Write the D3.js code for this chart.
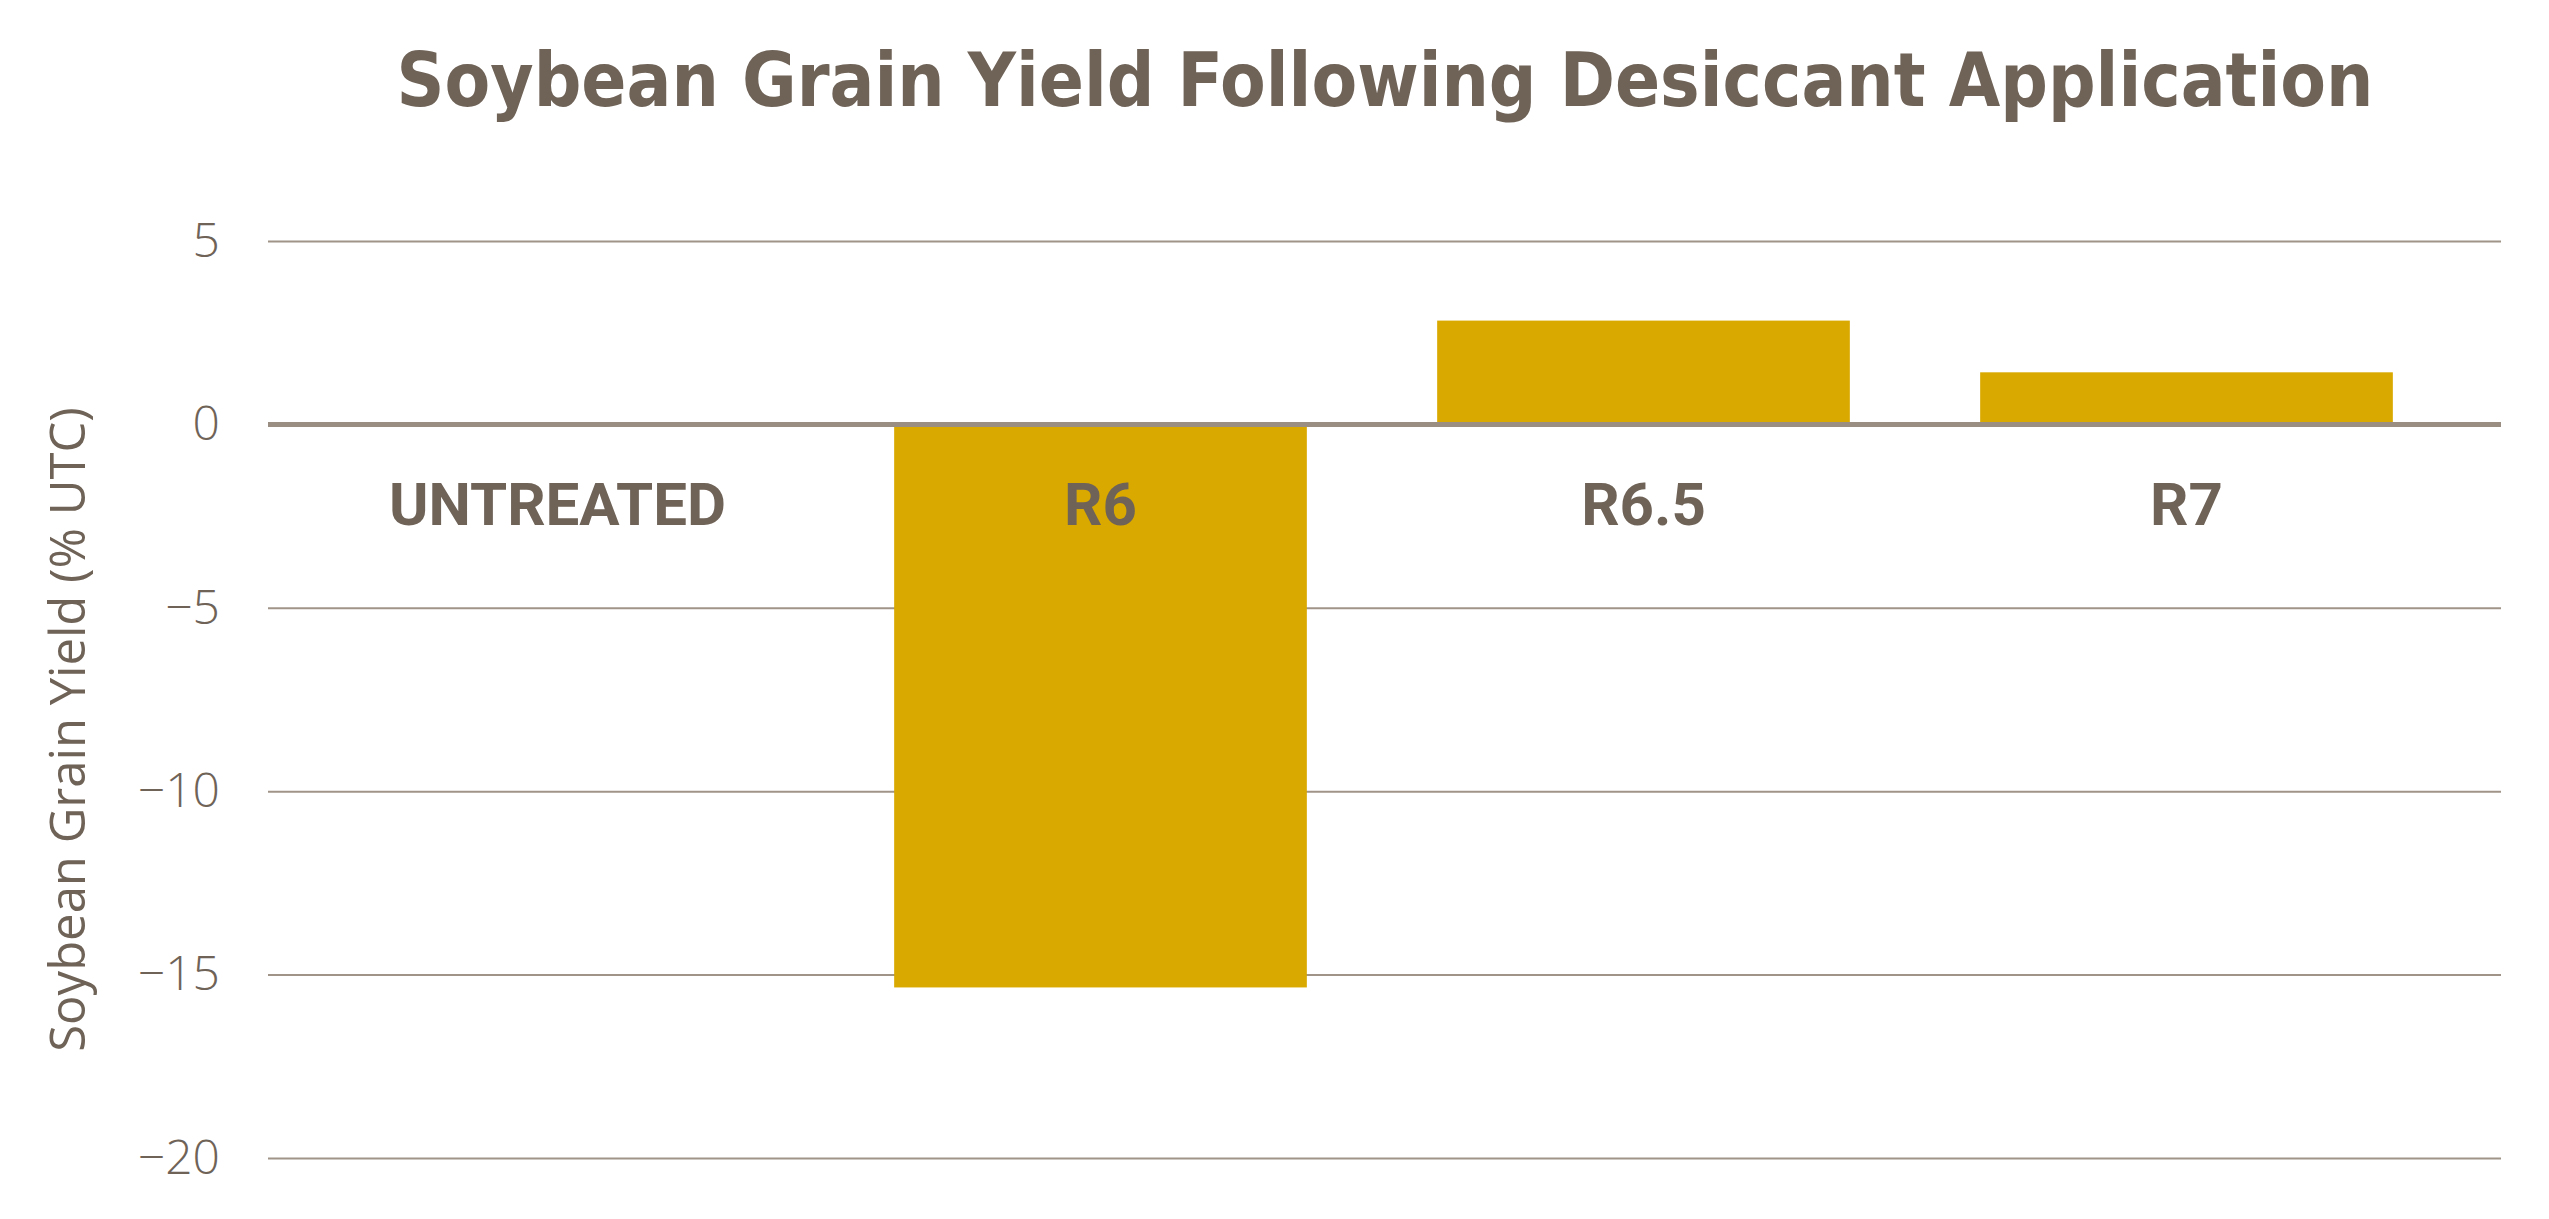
<!DOCTYPE html>
<html>
<head>
<meta charset="utf-8">
<script src="https://cdn.jsdelivr.net/npm/d3@7"></script>
<style>
  body { margin: 0; background: #fff; }
</style>
</head>
<body>
<script>
const categories = ["UNTREATED", "R6", "R6.5", "R7"];
const yields = [0, -15.35, 2.83, 1.42];
const yTicks = [5, 0, -5, -10, -15, -20];

const width = 2549, height = 1219;
const margin = {top: 241, right: 48, bottom: 61, left: 268};
const textColor = "#6f6358";

const svg = d3.select("body").append("svg")
    .attr("width", width)
    .attr("height", height);

const x = d3.scaleBand()
    .domain(categories)
    .range([286, 2458])
    .paddingInner(0.24)
    .paddingOuter(0.12);

const y = d3.scaleLinear()
    .domain([-20, 5])
    .range([height - margin.bottom, margin.top]);

// gridlines + tick labels
const yAxis = svg.append("g")
    .attr("transform", `translate(${margin.left},0)`)
    .call(d3.axisLeft(y).tickValues(yTicks).tickSize(-(width - margin.left - margin.right)).tickFormat(d3.format("d")));
yAxis.select(".domain").remove();
yAxis.selectAll(".tick line").attr("stroke", "#a09488").attr("stroke-width", 2);
yAxis.selectAll(".tick text")
    .attr("x", -48)
    .attr("fill", textColor)
    .attr("font-family", "Open Sans, sans-serif")
    .attr("font-weight", 300)
    .attr("font-size", 48);

svg.append("g").selectAll("rect")
  .data(categories)
  .join("rect")
    .attr("x", d => x(d))
    .attr("width", x.bandwidth())
    .attr("y", (d, i) => y(Math.max(0, yields[i])))
    .attr("height", (d, i) => Math.abs(y(yields[i]) - y(0)))
    .attr("fill", "#d9a900");

// zero line
svg.append("line")
    .attr("x1", margin.left).attr("x2", width - margin.right)
    .attr("y1", y(0)).attr("y2", y(0))
    .attr("stroke", "#9a8e82").attr("stroke-width", 5);

svg.append("g").selectAll("text")
  .data(categories)
  .join("text")
    .attr("x", d => x(d) + x.bandwidth() / 2)
    .attr("y", y(0) + 101)
    .attr("text-anchor", "middle")
    .attr("fill", textColor)
    .attr("font-family", "Roboto, sans-serif")
    .attr("font-weight", 700)
    .attr("font-size", 60)
    .text(d => d);

svg.append("text")
    .attr("x", 1385)
    .attr("y", 106)
    .attr("text-anchor", "middle")
    .attr("fill", textColor)
    .attr("font-family", "DejaVu Sans Condensed, DejaVu Sans, sans-serif")
    .attr("font-stretch", "condensed")
    .attr("font-weight", 700)
    .attr("font-size", 74)
    .text("Soybean Grain Yield Following Desiccant Application");

svg.append("text")
    .attr("transform", `translate(85,${(margin.top + height - margin.bottom) / 2 + 30}) rotate(-90)`)
    .attr("text-anchor", "middle")
    .attr("fill", textColor)
    .attr("font-family", "Open Sans, sans-serif")
    .attr("font-size", 49)
    .text("Soybean Grain Yield (% UTC)");
</script>
</body>
</html>
